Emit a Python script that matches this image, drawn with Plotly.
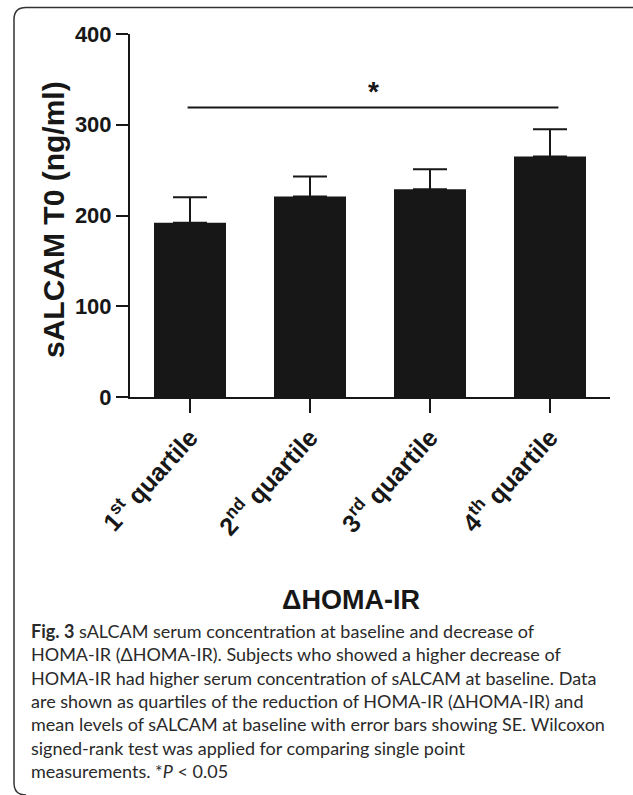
import plotly.graph_objects as go

# ---- data ----
categories = ["1<sup>st</sup> quartile", "2<sup>nd</sup> quartile",
              "3<sup>rd</sup> quartile", "4<sup>th</sup> quartile"]
means = [192, 221, 229, 265]
se = [28, 22, 22, 30]
y_ticks = [0, 100, 200, 300, 400]
y_title = "sALCAM T0 (ng/ml)"
x_title = "ΔHOMA-IR"
sig_level = 319
sig_text = "*"
caption_lines = [
    "<b>Fig. 3</b> sALCAM serum concentration at baseline and decrease of",
    "HOMA-IR (ΔHOMA-IR). Subjects who showed a higher decrease of",
    "HOMA-IR had higher serum concentration of sALCAM at baseline. Data",
    "are shown as quartiles of the reduction of HOMA-IR (ΔHOMA-IR) and",
    "mean levels of sALCAM at baseline with error bars showing SE. Wilcoxon",
    "signed-rank test was applied for comparing single point",
    "measurements. *<i>P</i> &lt; 0.05",
]

# ---- layout geometry ----
W, H = 633, 795
L, R, T, B = 130, 23, 34, 398
PW = W - L - R
PH = H - T - B


def px(xp):
    return (xp - L) / PW


def py(yp):
    return (H - B - yp) / PH


INK = "#171717"
BOLD = dict(family="Liberation Sans, Arial, sans-serif", color=INK, weight="bold")

fig = go.Figure()
fig.add_trace(go.Bar(
    x=categories, y=means, width=0.6,
    marker=dict(color=INK, line=dict(width=0)),
    error_y=dict(type="data", array=se, arrayminus=[0] * len(se), symmetric=False,
                 color=INK, thickness=2, width=17),
    showlegend=False,
))

# significance bracket
fig.add_shape(type="line", xref="x", yref="y", x0=-0.02, x1=3.07,
              y0=sig_level, y1=sig_level, line=dict(color=INK, width=2))
fig.add_annotation(x=1.53, y=sig_level, xref="x", yref="y", text=sig_text,
                   showarrow=False, yanchor="bottom", yshift=-1,
                   font=dict(size=28, **BOLD))

# axis titles
fig.add_annotation(x=px(53), y=py(220), xref="paper", yref="paper", text=y_title,
                   textangle=-90, showarrow=False, xanchor="center", yanchor="middle",
                   font=dict(size=30, **BOLD))
fig.add_annotation(x=px(351), y=py(600), xref="paper", yref="paper", text=x_title,
                   showarrow=False, xanchor="center", yanchor="middle",
                   font=dict(size=27, **BOLD))

# caption
for i, line in enumerate(caption_lines):
    fig.add_annotation(x=px(29), y=py(631 + i * 23.3), xref="paper", yref="paper",
                       text=line, showarrow=False, xanchor="left", yanchor="middle",
                       align="left",
                       font=dict(size=18, family="Lato, Open Sans, sans-serif", color="#2a2a2a"))

# panel border (top + left with rounded corners)
border = (f"M {px(640)},{py(7.5)} L {px(26)},{py(7.5)} "
          f"Q {px(14)},{py(7.5)} {px(14)},{py(19.5)} "
          f"L {px(14)},{py(783)} Q {px(14)},{py(795)} {px(26)},{py(795)}")
fig.add_shape(type="path", xref="paper", yref="paper", path=border,
              line=dict(color="#333333", width=1.5))

fig.update_xaxes(
    range=[-0.5, 3.5], showline=True, linewidth=2, linecolor=INK,
    ticks="outside", ticklen=14, tickwidth=2, tickcolor=INK,
    tickangle=-48, tickfont=dict(size=25, **BOLD), showgrid=False, zeroline=False,
)
fig.update_yaxes(
    range=[0, 400], tickvals=y_ticks, showline=True, linewidth=2, linecolor=INK,
    ticks="outside", ticklen=12, tickwidth=2, tickcolor=INK,
    tickfont=dict(size=22, **BOLD), showgrid=False, zeroline=False,
)
fig.update_layout(
    width=W, height=H, autosize=False,
    margin=dict(l=L, r=R, t=T, b=B),
    paper_bgcolor="white", plot_bgcolor="white",
    bargap=0.4,
)

# remove the browser's default 8px body margin so the figure sits at the page origin
fig.write_html("out.html", config={"displayModeBar": False},
               post_script="document.body.style.margin='0';document.body.style.overflow='hidden';")
